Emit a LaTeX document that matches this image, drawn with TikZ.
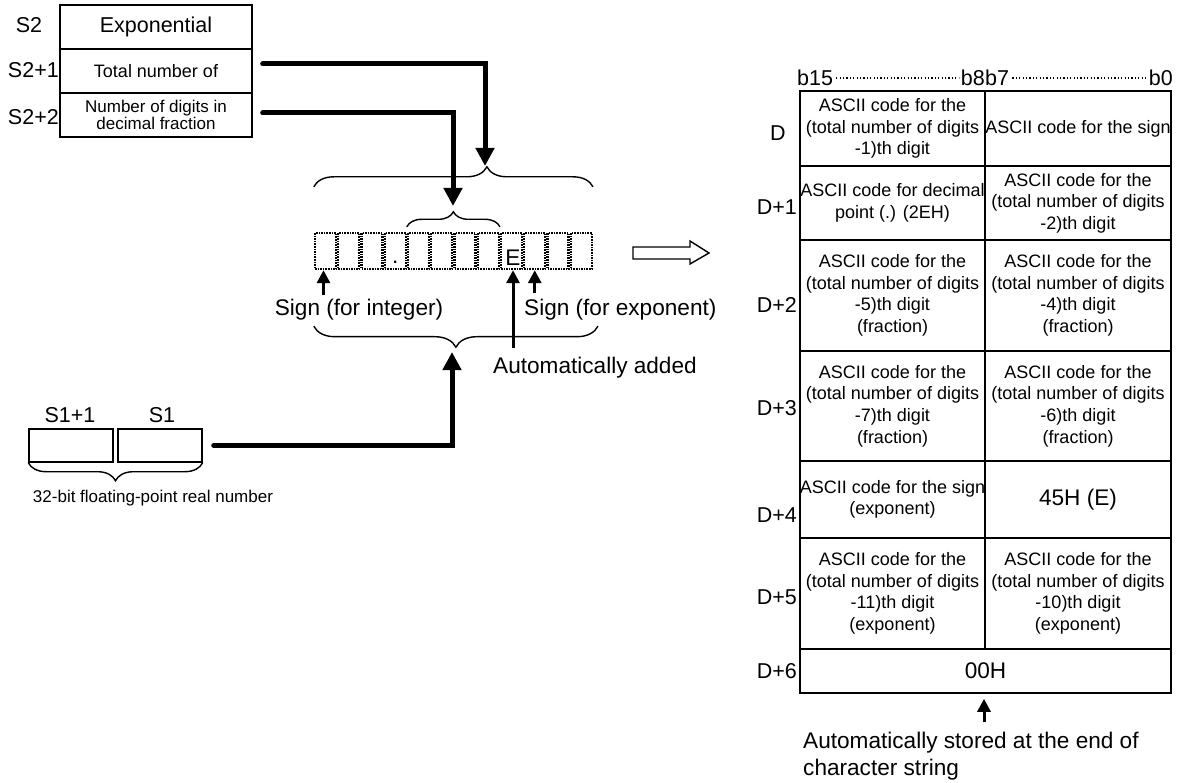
\documentclass[tikz,border=0pt]{standalone}
\usepackage{fontspec}
\setmainfont{Liberation Sans}
\usetikzlibrary{arrows.meta,decorations.pathreplacing,calc}

\newcommand{\fbig}{\fontsize{22.6}{27}\selectfont}
\newcommand{\fmid}{\fontsize{21.5}{25}\selectfont}
\newcommand{\fcell}{\fontsize{18}{21.6}\selectfont}
\newcommand{\fsml}{\fontsize{17}{16.5}\selectfont}

\tikzset{
  txt/.style={inner sep=0pt},
  regbox/.style={draw, line width=1.4pt, inner sep=0pt, minimum width=192pt, minimum height=44pt},
  digitbox/.style={draw, line width=2.4pt, dash pattern=on 1.6pt off 1pt, inner sep=0pt, minimum width=21pt, minimum height=36pt},
  wordbox/.style={draw, line width=1.4pt, inner sep=0pt, minimum width=84pt, minimum height=33pt},
  cell/.style={draw, line width=1.6pt, inner sep=0pt, align=center, font=\fcell},
  thickarrow/.style={line width=5pt, line cap=round, -{Triangle[length=18pt,width=18pt]}},
  thinarrow/.style={line width=3pt, -{Triangle[length=13pt,width=13pt]}},
  curly/.style={decorate, decoration={brace, amplitude=#1}, line width=1.4pt},
  curlydown/.style={decorate, decoration={brace, mirror, amplitude=#1}, line width=1.4pt},
  bitdots/.style={line width=1.4pt, dash pattern=on 1.2pt off 2.2pt},
}

\begin{document}
\begin{tikzpicture}[x=1pt,y=-1pt]
\useasboundingbox (0,0) rectangle (1188,783);

% S2 table
\node[regbox, font=\fmid] (s2a) at (156,27) {Exponential};
\node[regbox, font=\fcell] (s2b) at (156,71) {Total number of};
\node[regbox, font=\fsml, align=center] (s2c) at (156,115) {Number of digits in\\decimal fraction};
\node[font=\fmid, txt] (s2alab) at (29,25) {S2};
\node[font=\fmid, txt, anchor=east] (s2blab) at (59,70) {S2+1};
\node[font=\fmid, txt, anchor=east] (s2clab) at (59,117) {S2+2};

% character string
\foreach \i in {1,...,12}
  \node[digitbox] (d\i) at ({325.5+(\i-1)*23.25},251) {};
\node[font=\fbig, txt, anchor=base] (dotpt) at ($(d4.south)+(0,-7)$) {.};
\node[font=\fbig, txt, anchor=base] (echar) at ($(d9.south)+(1.5,-5)$) {E};

\draw[curly=20pt, decoration={aspect=0.62}] ([yshift=45pt]d1.north west) -- ([yshift=45pt]d12.north east);
\draw[curly=15pt] ([yshift=5pt]d5.north west) -- ([yshift=5pt]d8.north east);
\draw[curlydown=21pt] ([yshift=-56pt]d1.south west) -- ([yshift=-56pt,xshift=5pt]d12.south east);

\coordinate (bbtip) at (485,166);
\coordinate (sbtip) at (453,206);
\coordinate (lbtip) at (452,352);

\draw[thickarrow] ([xshift=10pt,yshift=7pt]s2b.east) -| (bbtip);
\draw[thickarrow] ([xshift=10pt,yshift=2pt]s2c.east) -| (sbtip);

\node[font=\fbig, txt] (signint) at (359,310) {Sign (for integer)};
\node[font=\fbig, txt, anchor=west] (signexp) at (524,310) {Sign (for exponent)};
\node[font=\fbig, txt, anchor=west] (autoadd) at (493,368) {Automatically added};
\draw[thinarrow] ($(d1.south |- signint.north)+(-2,-4)$) -- ([xshift=-2pt]d1.south);
\draw[thinarrow] ($(d9.south |- autoadd.north)+(1.5,-9)$) -- ([xshift=1.5pt]d9.south);
\draw[thinarrow] ($(d10.south |- signexp.north)+(0,-6)$) -- (d10.south);

% S1 words
\node[wordbox] (s1a) at (71,445.5) {};
\node[wordbox] (s1b) at (160,445.5) {};
\node[font=\fmid, txt] (s1alab) at (70,415) {S1+1};
\node[font=\fmid, txt] (s1blab) at (162,415) {S1};
\draw[curlydown=18pt] (s1a.south west) -- (s1b.south east);
\node[font=\fsml, txt] (real) at (153,498) {32-bit floating-point real number};
\draw[thickarrow] ([xshift=11pt]s1b.east) -| (lbtip);

% hollow arrow
\draw[line width=1.4pt] (633,247) -- (690,247) -- (690,241) -- (709,253) -- (690,264) -- (690,259) -- (633,259) -- cycle;

% D table
\node[font=\fmid, txt, anchor=west] (b15) at (797,78) {b15};
\node[font=\fmid, txt, anchor=east] (b8) at (985,78) {b8};
\node[font=\fmid, txt, anchor=west] (b7) at (985,78) {b7};
\node[font=\fmid, txt, anchor=east] (b0) at (1173,78) {b0};
\draw[bitdots] ([xshift=3pt]b15.east) -- ([xshift=-2pt]b8.west);
\draw[bitdots] ([xshift=3pt]b7.east) -- ([xshift=-3pt]b0.west);

\node[cell, minimum width=185pt, minimum height=75pt] (r1l) at (892.5,128.5) {ASCII code for the\\(total number of digits\\-1)th digit};
\node[cell, minimum width=186pt, minimum height=75pt] (r1r) at (1078,128.5) {ASCII code for the sign};
\node[cell, minimum width=185pt, minimum height=74pt] (r2l) at (892.5,203) {ASCII code for decimal\\point (.) (2EH)};
\node[cell, minimum width=186pt, minimum height=74pt] (r2r) at (1078,203) {ASCII code for the\\(total number of digits\\-2)th digit};
\node[cell, minimum width=185pt, minimum height=111pt] (r3l) at (892.5,295.5) {ASCII code for the\\(total number of digits\\-5)th digit\\(fraction)};
\node[cell, minimum width=186pt, minimum height=111pt] (r3r) at (1078,295.5) {ASCII code for the\\(total number of digits\\-4)th digit\\(fraction)};
\node[cell, minimum width=185pt, minimum height=110pt] (r4l) at (892.5,406) {ASCII code for the\\(total number of digits\\-7)th digit\\(fraction)};
\node[cell, minimum width=186pt, minimum height=110pt] (r4r) at (1078,406) {ASCII code for the\\(total number of digits\\-6)th digit\\(fraction)};
\node[cell, minimum width=185pt, minimum height=77pt] (r5l) at (892.5,499.5) {ASCII code for the sign\\(exponent)};
\node[cell, minimum width=186pt, minimum height=77pt, font=\fbig] (r5r) at (1078,499.5) {45H (E)};
\node[cell, minimum width=185pt, minimum height=111pt] (r6l) at (892.5,593.5) {ASCII code for the\\(total number of digits\\-11)th digit\\(exponent)};
\node[cell, minimum width=186pt, minimum height=111pt] (r6r) at (1078,593.5) {ASCII code for the\\(total number of digits\\-10)th digit\\(exponent)};
\node[cell, minimum width=371pt, minimum height=44pt, font=\fbig] (r7) at (985.5,671) {00H};

\node[font=\fmid, txt] (rd0) at (778,133) {D};
\node[font=\fmid, txt, anchor=east] (rd1) at (797,207) {D+1};
\node[font=\fmid, txt, anchor=east] (rd2) at (797,305) {D+2};
\node[font=\fmid, txt, anchor=east] (rd3) at (797,408) {D+3};
\node[font=\fmid, txt, anchor=east] (rd4) at (797,515) {D+4};
\node[font=\fmid, txt, anchor=east] (rd5) at (797,597) {D+5};
\node[font=\fmid, txt, anchor=east] (rd6) at (797,671) {D+6};

\node[font=\fbig, txt, anchor=base west] (store1) at (803,748) {Automatically stored at the end of};
\node[font=\fbig, txt, anchor=base west] (store2) at (803,775) {character string};
\draw[thinarrow] ($(r7.south |- store1.north)+(-1.5,-9)$) -- ([xshift=-1.5pt,yshift=-5pt]r7.south);
\end{tikzpicture}
\end{document}
